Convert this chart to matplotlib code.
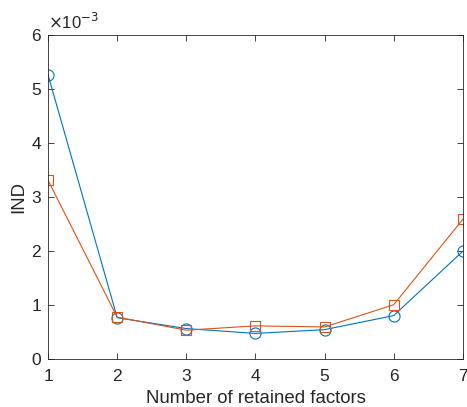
import matplotlib
matplotlib.use('Agg')
import matplotlib.pyplot as plt

plt.rcParams['font.family'] = ['Liberation Sans', 'DejaVu Sans']

factors = [1, 2, 3, 4, 5, 6, 7]
ind_a = [5.26e-3, 0.77e-3, 0.57e-3, 0.48e-3, 0.55e-3, 0.81e-3, 2.00e-3]
ind_b = [3.31e-3, 0.78e-3, 0.54e-3, 0.62e-3, 0.60e-3, 1.01e-3, 2.59e-3]

fig = plt.figure(figsize=(4.67, 4.07), dpi=100)
ax = fig.add_axes([0.103, 0.117, 0.888, 0.797])

ax.plot(factors, ind_a, '-o', color='#0072BD', lw=0.8, ms=8, mfc='none', mew=0.8)
ax.plot(factors, ind_b, '-s', color='#D95319', lw=0.8, ms=7, mfc='none', mew=0.8)

ax.set_xlim(1, 7)
ax.set_ylim(0, 6e-3)
ax.set_xticks(factors)
ax.set_yticks([0, 1e-3, 2e-3, 3e-3, 4e-3, 5e-3, 6e-3])
ax.set_yticklabels(['0', '1', '2', '3', '4', '5', '6'])
ax.tick_params(direction='in', top=True, right=True, labelsize=12.5, length=4, width=0.6,
               colors='#262626')
ax.tick_params(axis='x', pad=7)
ax.tick_params(axis='y', pad=5)
for s in ax.spines.values():
    s.set_linewidth(0.6)
    s.set_color('#262626')

ax.text(0.0, 1.01, r'$\times$10$^{-3}$', transform=ax.transAxes, fontsize=12, color='#262626',
        ha='left', va='bottom')
ax.set_xlabel('Number of retained factors', fontsize=13.4, color='#262626', labelpad=4)
ax.set_ylabel('IND', fontsize=13.4, color='#262626', labelpad=3)

fig.savefig('out.png', dpi=100)
